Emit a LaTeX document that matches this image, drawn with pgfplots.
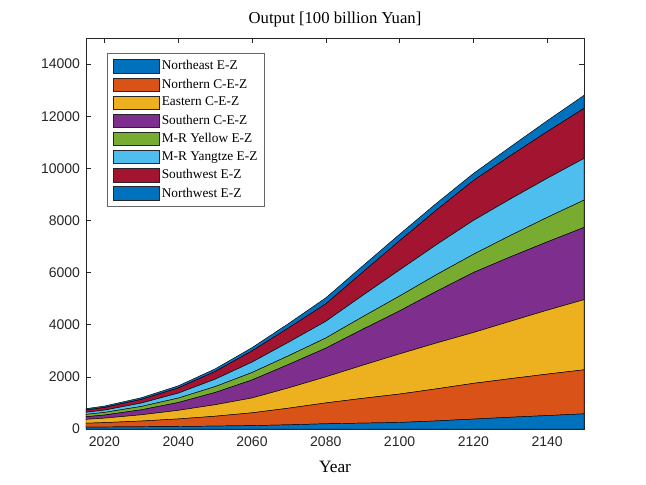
\documentclass[border=0pt]{standalone}
\usepackage{pgfplots}
\pgfplotsset{compat=1.18}
\usepackage{pgfplotstable}
\usepackage{fontspec}
\setmainfont{Liberation Serif}
\newfontfamily\ticksans{Liberation Sans}

% MATLAB default colour order
\definecolor{mBlue}{rgb}{0,0.447,0.741}
\definecolor{mOrange}{rgb}{0.85,0.325,0.098}
\definecolor{mYellow}{rgb}{0.929,0.694,0.125}
\definecolor{mPurple}{rgb}{0.494,0.184,0.556}
\definecolor{mGreen}{rgb}{0.466,0.674,0.188}
\definecolor{mCyan}{rgb}{0.301,0.745,0.933}
\definecolor{mRed}{rgb}{0.635,0.078,0.184}
\definecolor{axgray}{rgb}{0.15,0.15,0.15}

% Output by economic zone, 100 billion Yuan
\pgfplotstableread{
year NE   NC   EC   SC   YR   YZ   SW   NW
2015 70   150  150  100  90   80   90   50
2020 75   170  170  120  100  90   100  55
2030 85   220  240  190  130  130  140  65
2040 95   290  330  300  170  190  200  80
2050 110  380  440  470  225  285  295  100
2060 130  490  570  690  285  400  430  125
2070 160  640  780  900  335  520  550  170
2080 200  800  1000 1100 390  640  670  230
2090 225  950  1270 1380 480  820  890  240
2100 250  1090 1540 1650 570  1000 1120 250
2110 310  1230 1760 1980 640  1150 1330 260
2120 380  1370 1950 2300 700  1300 1530 270
2130 450  1480 2200 2470 820  1400 1660 340
2140 515  1590 2450 2620 940  1500 1790 420
2150 580  1690 2690 2770 1050 1600 1920 500
}\zones

\begin{document}
\begin{tikzpicture}
\begin{axis}[
  name=ax,
  scale only axis,
  width=373.5pt, height=293.25pt,
  xmin=2015, xmax=2150, ymin=0, ymax=15000,
  xtick={2020,2040,...,2140},
  ytick={0,2000,...,14000},
  scaled y ticks=false,
  /pgf/number format/1000 sep={},
  /pgf/number format/assume math mode=true,
  tick label style={font=\ticksans\fontsize{10.5}{12}\selectfont, text=axgray},
  tick align=inside,
  major tick length=4pt,
  tick style={axgray, line width=0.4pt},
  axis line style={axgray, line width=0.5pt},
  xticklabel style={yshift=-2pt},
  yticklabel style={xshift=-1pt},
  title={Output [100 billion Yuan]},
  title style={font=\fontsize{12.5}{14}\selectfont, yshift=-1pt},
  xlabel={Year},
  xlabel style={font=\fontsize{13}{15}\selectfont, yshift=-4.5pt},
  stack plots=y,
  area legend,
  legend cell align=left,
  legend image code/.code={\draw[#1, draw=axgray, line width=0.4pt] (0pt,-5pt) rectangle (35pt,5pt);},
  legend style={at={(0.042,0.962)}, anchor=north west,
    font=\fontsize{10}{11}\selectfont, draw=black!60, line width=0.5pt,
    row sep=2.3pt, inner xsep=4pt, inner ysep=4pt,
    nodes={inner sep=1.5pt}},
  every axis plot/.append style={draw=black, line width=0.35pt},
]
\addplot[fill=mBlue]   table[x=year,y=NE] {\zones} \closedcycle;
\addplot[fill=mOrange] table[x=year,y=NC] {\zones} \closedcycle;
\addplot[fill=mYellow] table[x=year,y=EC] {\zones} \closedcycle;
\addplot[fill=mPurple] table[x=year,y=SC] {\zones} \closedcycle;
\addplot[fill=mGreen]  table[x=year,y=YR] {\zones} \closedcycle;
\addplot[fill=mCyan]   table[x=year,y=YZ] {\zones} \closedcycle;
\addplot[fill=mRed]    table[x=year,y=SW] {\zones} \closedcycle;
\addplot[fill=mBlue]   table[x=year,y=NW] {\zones} \closedcycle;
\legend{Northeast E-Z, Northern C-E-Z, Eastern C-E-Z, Southern C-E-Z,
  M-R Yellow E-Z, M-R Yangtze E-Z, Southwest E-Z, Northwest E-Z}
\end{axis}
\pgfresetboundingbox
\path[use as bounding box] ([xshift=-64.5pt,yshift=-42pt]ax.south west)
  rectangle ([xshift=420pt,yshift=321.75pt]ax.south west);
\end{tikzpicture}
\end{document}
